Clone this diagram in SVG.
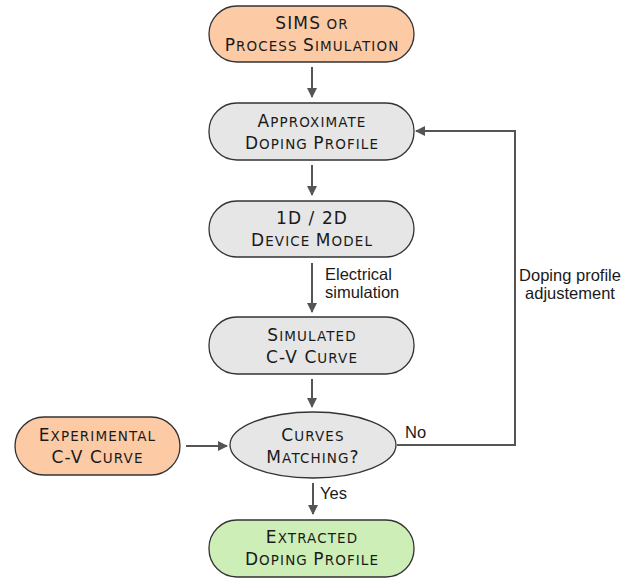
<svg xmlns="http://www.w3.org/2000/svg" width="644" height="578" viewBox="0 0 644 578">
<defs>
<marker id="ah" viewBox="0 0 10 10" refX="9" refY="5" markerWidth="10" markerHeight="10" markerUnits="userSpaceOnUse" orient="auto">
<path d="M0,0 L10,5 L0,10 z" fill="#555"/>
</marker>
</defs>
<style>
.box{stroke:#333;stroke-width:1.3}
.orange{fill:#fccba6}
.gray{fill:#e6e6e6}
.green{fill:#cdeeb6}
.t{font-family:"DejaVu Sans",sans-serif;font-size:17px;letter-spacing:1.1px;fill:#1a1a1a;text-anchor:middle}
.s{font-size:13.5px}
.lbl{font-family:"Liberation Sans",Arial,sans-serif;font-size:16.5px;fill:#1a1a1a}
.c{stroke:#555;stroke-width:2;fill:none;marker-end:url(#ah)}
</style>
<rect width="644" height="578" fill="#fff"/>
<g id="sims">
<rect class="box orange" x="209" y="6" width="205" height="56" rx="28"/>
<text class="t" x="312" y="29">SIMS<tspan class="s"> OR</tspan></text>
<text class="t" x="312" y="51">P<tspan class="s">ROCESS </tspan>S<tspan class="s">IMULATION</tspan></text>
</g>
<g id="approx">
<rect class="box gray" x="209" y="103" width="205" height="57" rx="28"/>
<text class="t" x="312" y="127">A<tspan class="s">PPROXIMATE</tspan></text>
<text class="t" x="312" y="149">D<tspan class="s">OPING </tspan>P<tspan class="s">ROFILE</tspan></text>
</g>
<g id="model">
<rect class="box gray" x="209" y="201" width="205" height="56" rx="28"/>
<text class="t" x="312" y="224">1D / 2D</text>
<text class="t" x="312" y="246">D<tspan class="s">EVICE </tspan>M<tspan class="s">ODEL</tspan></text>
</g>
<g id="simulated">
<rect class="box gray" x="209" y="317" width="205" height="57" rx="28"/>
<text class="t" x="312" y="341">S<tspan class="s">IMULATED</tspan></text>
<text class="t" x="312" y="363">C-V C<tspan class="s">URVE</tspan></text>
</g>
<g id="experimental">
<rect class="box orange" x="15" y="417" width="165" height="58" rx="29"/>
<text class="t" x="97.5" y="441">E<tspan class="s">XPERIMENTAL</tspan></text>
<text class="t" x="97.5" y="463">C-V C<tspan class="s">URVE</tspan></text>
</g>
<g id="matching">
<ellipse class="box gray" cx="313" cy="445" rx="83" ry="33"/>
<text class="t" x="313" y="441">C<tspan class="s">URVES</tspan></text>
<text class="t" x="313" y="463">M<tspan class="s">ATCHING</tspan>?</text>
</g>
<g id="extracted">
<rect class="box green" x="209" y="520" width="205" height="57" rx="28"/>
<text class="t" x="312" y="543">E<tspan class="s">XTRACTED</tspan></text>
<text class="t" x="312" y="565">D<tspan class="s">OPING </tspan>P<tspan class="s">ROFILE</tspan></text>
</g>
<g id="connectors">
<line class="c" x1="312" y1="67" x2="312" y2="97"/>
<line class="c" x1="312" y1="165" x2="312" y2="195"/>
<line class="c" x1="312" y1="263" x2="312" y2="312"/>
<line class="c" x1="312" y1="379" x2="312" y2="407"/>
<line class="c" x1="313" y1="483" x2="313" y2="514"/>
<line class="c" x1="186" y1="446" x2="227" y2="446"/>
<polyline class="c" points="397,445 515,445 515,131 416,131"/>
<text class="lbl" x="325" y="280">Electrical</text>
<text class="lbl" x="325" y="298">simulation</text>
<text class="lbl" x="570" y="281" text-anchor="middle">Doping profile</text>
<text class="lbl" x="570" y="299" text-anchor="middle">adjustement</text>
<text class="lbl" x="405" y="438">No</text>
<text class="lbl" x="320" y="499">Yes</text>
</g>
</svg>
